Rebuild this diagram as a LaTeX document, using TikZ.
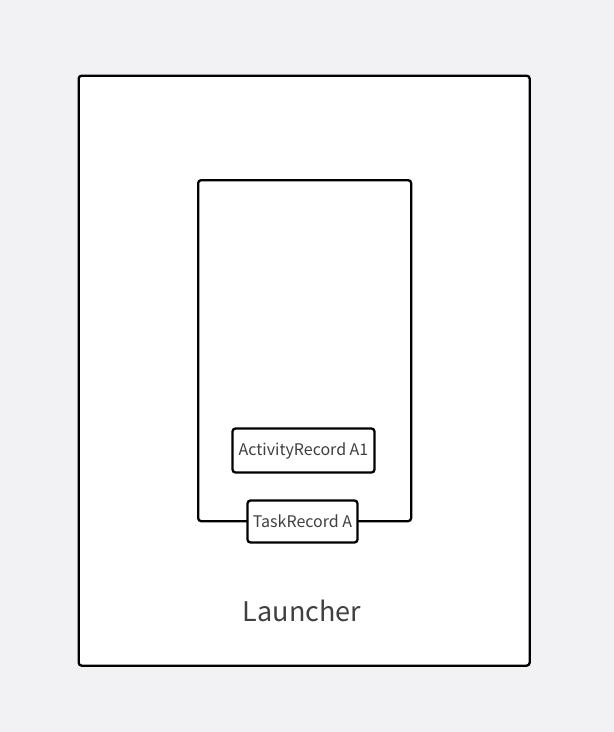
\documentclass[tikz,border=0pt]{standalone}
\usepackage{fontspec}
\setmainfont{Noto Sans CJK SC}
\definecolor{bg}{HTML}{F2F2F4}
\definecolor{txt}{HTML}{404040}
\begin{document}
\begin{tikzpicture}[x=1pt,y=-1pt,
  box/.style={draw=black,line width=2.3pt,rounded corners=3pt,fill=white},
  lbl/.style={draw=black,line width=2.3pt,rounded corners=3pt,fill=white,text=txt,font=\fontsize{16}{18}\selectfont,inner sep=0pt}]
\fill[bg] (0,0) rectangle (614,732);
\useasboundingbox (0,0) rectangle (614,732);
\node[box,minimum width=451pt,minimum height=590pt,anchor=north west] (outer) at (77.5,74.5) {};
\node[box,minimum width=213pt,minimum height=341pt,anchor=north west] (task) at (197,179) {};
\node[lbl,minimum width=142pt,minimum height=44pt] (a1) at (303.5,450.5) {ActivityRecord A1};
\node[lbl,minimum width=110pt,minimum height=42pt] (tr) at (302.5,521.5) {TaskRecord A};
\node[text=txt,font=\fontsize{27}{30}\selectfont] (launcher) at (302,611) {Launcher};
\end{tikzpicture}
\end{document}
